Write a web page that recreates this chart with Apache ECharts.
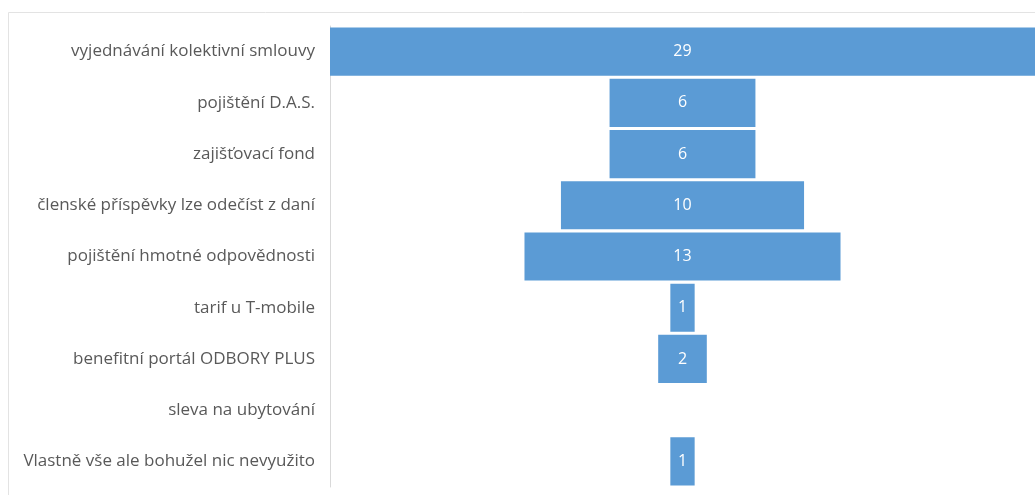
<!DOCTYPE html>
<html>
<head>
<meta charset="utf-8">
<script src="https://cdn.jsdelivr.net/npm/echarts@6/dist/echarts.min.js"></script>
<style>
  html, body { margin: 0; padding: 0; background: #fff; }
  #chart { width: 1035px; height: 495px; }
</style>
</head>
<body>
<div id="chart"></div>
<script>
// Benefit categories (top to bottom) and number of answers for each
const categories = [
  'vyjednávání kolektivní smlouvy',
  'pojištění D.A.S.',
  'zajišťovací fond',
  'členské příspěvky lze odečíst z daní',
  'pojištění hmotné odpovědnosti',
  'tarif u T-mobile',
  'benefitní portál ODBORY PLUS',
  'sleva na ubytování',
  'Vlastně vše ale bohužel nic nevyužito'
];
const counts = [29, 6, 6, 10, 13, 1, 2, null, 1];

// Centre each bar: an invisible spacer pushes it right by half the free space
const maxCount = Math.max(...counts.filter(v => v != null));
const spacer = counts.map(v => v == null ? null : (maxCount - v) / 2);

const chart = echarts.init(document.getElementById('chart'), null, { renderer: 'canvas' });
chart.setOption({
  animation: false,
  textStyle: { fontFamily: 'Open Sans' },
  graphic: [{
    type: 'rect',
    shape: { x: 8.5, y: 12.5, width: 1100, height: 600 },
    style: { fill: 'none', stroke: '#e3e3e3', lineWidth: 1 },
    silent: true
  }],
  grid: { left: 330, right: 0, top: 26, bottom: 8, containLabel: false },
  xAxis: {
    type: 'value',
    min: 0,
    max: maxCount,
    show: false
  },
  yAxis: {
    type: 'category',
    data: categories,
    inverse: true,
    axisLine: { show: true, lineStyle: { color: '#d9d9d9', width: 1 } },
    axisTick: { show: false },
    axisLabel: { color: '#595959', fontSize: 17, margin: 15 },
    splitLine: { show: false }
  },
  series: [
    {
      type: 'bar',
      stack: 'funnel',
      data: spacer,
      itemStyle: { color: 'transparent' },
      barCategoryGap: '6%',
      silent: true
    },
    {
      type: 'bar',
      stack: 'funnel',
      data: counts,
      barCategoryGap: '6%',
      itemStyle: { color: '#5b9bd5' },
      label: {
        show: true,
        position: 'inside',
        color: '#ffffff',
        fontSize: 16
      }
    }
  ]
});
</script>
</body>
</html>
